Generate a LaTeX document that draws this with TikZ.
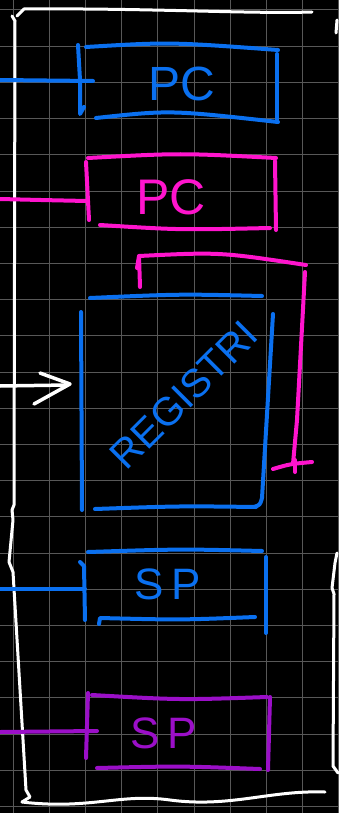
\documentclass[tikz,border=0pt]{standalone}
\usepackage{fontspec}
\setmainfont{Liberation Sans}
\definecolor{hblue}{RGB}{10,112,240}
\definecolor{hpink}{RGB}{255,20,205}
\definecolor{hpurple}{RGB}{155,15,200}
\definecolor{gridc}{RGB}{88,88,88}
\begin{document}
\begin{tikzpicture}[x=1pt,y=-1pt,
  pen/.style={line width=4pt,line cap=round,line join=round},
  chalk/.style={white,line width=3pt,line cap=round,line join=round},
  lbl/.style={inner sep=0pt,font=\fontsize{48}{48}\selectfont},
  gridline/.style={gridc,line width=1pt}]
% background and grid
\fill[black] (0,0) rectangle (338,813);
\useasboundingbox (0,0) rectangle (338,813);
\foreach \k in {0,...,9} {\draw[gridline] (13+36.2*\k,0) -- (13+36.2*\k,813);}
\foreach \k in {0,...,22} {\draw[gridline] (0,10+36.2*\k) -- (338,10+36.2*\k);}

% white frame
\draw[chalk] (17,16) -- (24,9) .. controls (150,8) and (250,14) .. (312,12);
\draw[chalk] (12,16) -- (15,21) -- (14,505) -- (12,510) -- (13,520) -- (9,562) -- (13,572)
  -- (26,790) -- (30,797) -- (22,802);
\draw[chalk] (22,802) .. controls (90,810) and (120,793) .. (170,800)
  .. controls (230,808) and (270,790) .. (325,792);
\draw[chalk] (337,20) -- (336,33);
\draw[chalk] (337,553) -- (335,563) -- (332,588) -- (334,594) -- (333,766) -- (338,773);

% blue PC
\node[lbl,text=hblue] (pcb) at (182,84) {PC};
\draw[pen,hblue] (86,47) .. controls (170,42) .. (278,50);
\draw[pen,hblue] (78,45) -- (80,80) -- (80,114) -- (84,107);
\draw[pen,hblue] (277,54) -- (277,122);
\draw[pen,hblue] (96,118) .. controls (170,110) .. (278,122);
\coordinate (pcbL) at (0,80);
\coordinate (pcbR) at (93,81);
\draw[pen,hblue] (pcbL) -- (pcbR);

% pink PC
\node[lbl,text=hpink,font=\fontsize{50}{50}\selectfont] (pcp) at (171,197) {PC};
\draw[pen,hpink] (88,158) .. controls (180,153) .. (276,158);
\draw[pen,hpink] (86,162) -- (89,220);
\draw[pen,hpink] (275,161) -- (276,230);
\draw[pen,hpink] (100,225) .. controls (180,230) .. (270,228);
\coordinate (pcpL) at (0,199);
\coordinate (pcpR) at (87,201);
\draw[pen,hpink] (pcpL) .. controls (40,200) .. (pcpR);

% pink bracket
\draw[pen,hpink] (137,268) -- (139,256) -- (140,287);
\draw[pen,hpink] (139,256) .. controls (220,252) .. (306,265);
\draw[pen,hpink] (305,272) -- (297,420) -- (293,464);
\draw[pen,hpink] (273,469) .. controls (290,464) .. (312,462);
\draw[pen,hpink] (295,460) -- (295,472);

% blue register box
\node[lbl,text=hblue,rotate=45,font=\fontsize{40}{40}\selectfont] (reg) at (184,395) {REGISTRI};
\draw[pen,hblue] (90,298) .. controls (180,294) .. (262,296);
\draw[pen,hblue] (81,312) -- (82,510);
\draw[pen,hblue] (273,314) -- (262,498) .. controls (260,505) .. (254,507);
\draw[pen,hblue] (95,509) .. controls (180,506) .. (256,507);

% white arrow into the register box
\coordinate (arrL) at (0,386);
\coordinate (arrR) at (68,385);
\draw[chalk,line width=3.5pt] (arrL) -- (arrR);
\draw[chalk,line width=3.5pt] (40,373) -- (70,384) -- (34,404);

% blue SP
\node[lbl,text=hblue,font=\fontsize{44}{44}\selectfont] (spb) at (168,584) {S\hspace{8pt}P};
\draw[pen,hblue] (88,552) .. controls (180,549) .. (262,551);
\draw[pen,hblue] (80,562) -- (84,566) -- (85,620);
\draw[pen,hblue] (266,557) -- (266,633);
\draw[pen,hblue] (99,624) -- (100,618) .. controls (180,620) .. (255,617);
\coordinate (spbL) at (0,589);
\coordinate (spbR) at (85,589);
\draw[pen,hblue] (spbL) -- (spbR);

% purple SP
\node[lbl,text=hpurple,font=\fontsize{44}{44}\selectfont] (spp) at (164,733) {S\hspace{8pt}P};
\draw[pen,hpurple] (92,695) .. controls (180,700) .. (267,697);
\draw[pen,hpurple] (88,693) -- (86,758);
\draw[pen,hpurple] (270,697) -- (268,770);
\draw[pen,hpurple] (97,768) .. controls (180,766) .. (260,769);
\coordinate (sppL) at (0,732);
\coordinate (sppR) at (97,731);
\draw[pen,hpurple] (sppL) -- (sppR);
\end{tikzpicture}
\end{document}
